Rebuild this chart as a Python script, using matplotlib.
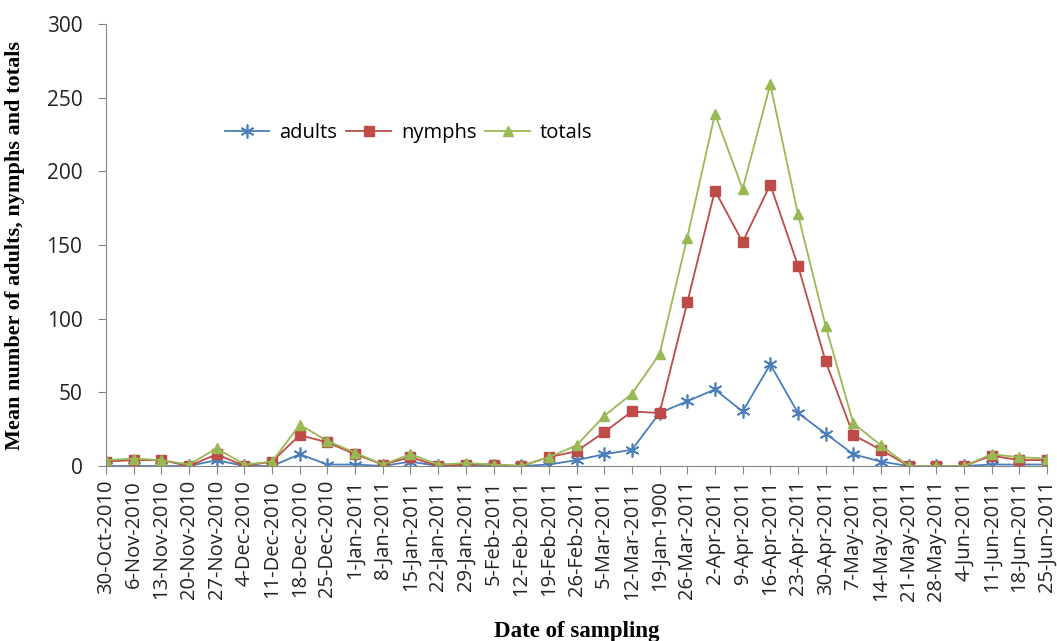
import matplotlib
matplotlib.use('Agg')
import matplotlib.pyplot as plt

# fechas de muestreo (tal como aparecen en el eje)
dates = ['30-Oct-2010', '6-Nov-2010', '13-Nov-2010', '20-Nov-2010', '27-Nov-2010',
         '4-Dec-2010', '11-Dec-2010', '18-Dec-2010', '25-Dec-2010', '1-Jan-2011',
         '8-Jan-2011', '15-Jan-2011', '22-Jan-2011', '29-Jan-2011', '5-Feb-2011',
         '12-Feb-2011', '19-Feb-2011', '26-Feb-2011', '5-Mar-2011', '12-Mar-2011',
         '19-Jan-1900', '26-Mar-2011', '2-Apr-2011', '9-Apr-2011', '16-Apr-2011',
         '23-Apr-2011', '30-Apr-2011', '7-May-2011', '14-May-2011', '21-May-2011',
         '28-May-2011', '4-Jun-2011', '11-Jun-2011', '18-Jun-2011', '25-Jun-2011']

adults = [0, 0, 0, 0, 4, 0, 0, 8, 1, 1, 0, 3, 0, 0, 0, 0, 1, 4, 8, 11,
          36, 44, 52, 37, 69, 36, 22, 8, 3, 0, 0, 0, 1, 1, 1]
nymphs = [3, 4, 4, 0, 8, 0, 3, 21, 16, 8, 1, 6, 0, 1, 1, 0, 6, 10, 23, 37,
          36, 111, 187, 152, 191, 136, 71, 21, 11, 0, 0, 0, 7, 4, 4]
totals = [4, 5, 4, 1, 12, 1, 3, 28, 17, 9, 1, 8, 1, 2, 1, 0, 6, 14, 34, 49,
          76, 155, 239, 188, 259, 171, 95, 29, 14, 0, 0, 0, 8, 6, 5]

x = list(range(len(dates)))

fig = plt.figure(figsize=(10.57, 6.41), dpi=100)
ax = fig.add_axes([0.1003, 0.273, 0.8903, 0.6895])

ax.plot(x, adults, color='#4A7EBB', marker=(6, 2, 0), markersize=10,
        markeredgewidth=1.2, linewidth=1.3, label='adults')
ax.plot(x, nymphs, color='#BE4B48', marker='s', markersize=7,
        linewidth=1.3, label='nymphs')
ax.plot(x, totals, color='#98B954', marker='^', markersize=7,
        linewidth=1.3, label='totals')

ax.set_xlim(0, len(dates) - 1)
ax.set_ylim(0, 300)
ax.set_yticks(range(0, 301, 50))
ax.set_xticks(x)
ax.set_xticklabels(dates, rotation=90, fontsize=14.5, family='Open Sans')
for lab in ax.get_yticklabels():
    lab.set_fontsize(15)
    lab.set_family('Open Sans')

for s in ['top', 'right']:
    ax.spines[s].set_visible(False)
for s in ['left', 'bottom']:
    ax.spines[s].set_color('#868686')
ax.tick_params(axis='both', direction='out', length=6, color='#868686', labelcolor='#222222')
ax.tick_params(axis='y', pad=11)
ax.tick_params(axis='x', pad=4)

ax.set_ylabel('Mean number of adults, nymphs and totals', family='Liberation Serif',
              fontweight='bold', fontsize=16, labelpad=10)
ax.yaxis.set_label_coords(-0.086, 0.5)
fig.text(0.546, 0.031, 'Date of sampling', family='Liberation Serif', fontweight='bold',
         fontsize=16.5, ha='center', va='top')

ax.legend(loc='center left', bbox_to_anchor=(0.118, 0.753), ncol=3, frameon=False,
          prop={'family': 'Open Sans', 'size': 14.5}, handlelength=2.2,
          columnspacing=0.45, handletextpad=0.5, borderaxespad=0)

plt.savefig('out.png', dpi=100)
